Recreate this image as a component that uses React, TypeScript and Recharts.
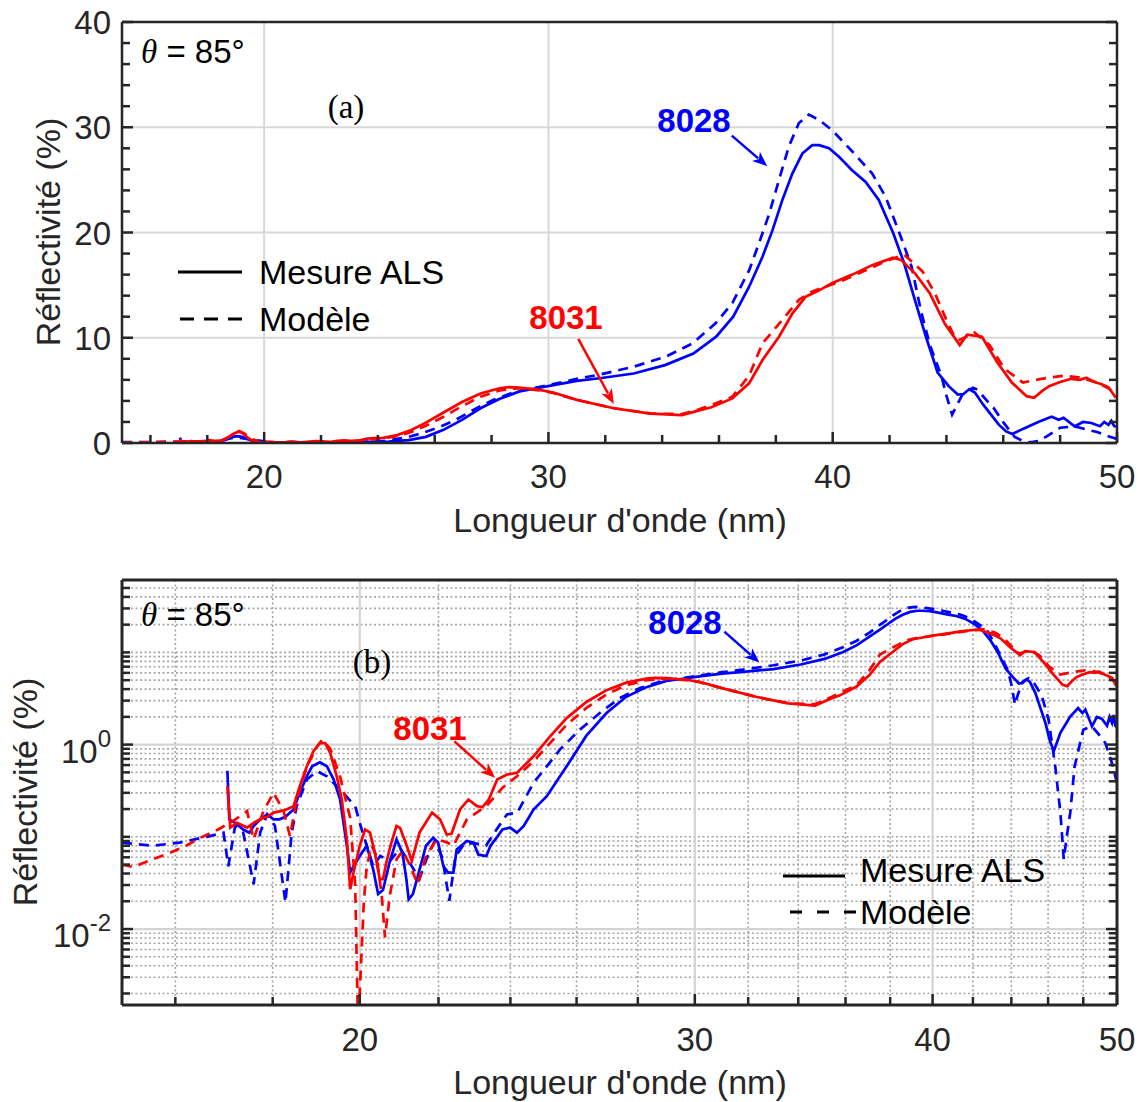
import React from "react";
import { LineChart, Line, XAxis, YAxis, CartesianGrid, ReferenceLine } from "recharts";

// [wavelength (nm), reflectivity (%)]
const mes8028: [number, number][] = [
  [17.04, 0.52], [17.08, 0.155], [17.2, 0.142], [17.37, 0.12], [17.5, 0.111], [17.59, 0.131],
  [17.73, 0.155], [17.88, 0.175], [18.02, 0.155], [18.15, 0.155], [18.28, 0.165], [18.46, 0.198],
  [18.6, 0.3], [18.76, 0.454], [18.88, 0.582], [19.06, 0.644], [19.22, 0.582], [19.38, 0.418],
  [19.53, 0.254], [19.69, 0.08], [19.77, 0.041], [19.85, 0.048], [20.0, 0.062], [20.17, 0.08],
  [20.33, 0.044], [20.45, 0.024], [20.57, 0.0265], [20.74, 0.054], [20.91, 0.094], [21.06, 0.067],
  [21.16, 0.035], [21.22, 0.021], [21.33, 0.024], [21.55, 0.0525], [21.67, 0.08], [21.86, 0.098],
  [21.99, 0.0865], [22.13, 0.048], [22.26, 0.041], [22.4, 0.041], [22.49, 0.073], [22.77, 0.09],
  [22.95, 0.0865], [23.09, 0.064], [23.31, 0.062], [23.43, 0.08], [23.62, 0.1], [23.77, 0.12],
  [23.99, 0.126], [24.19, 0.111], [24.39, 0.131], [24.68, 0.198], [25.08, 0.276], [25.69, 0.582],
  [26.31, 1.25], [26.96, 2.2], [27.61, 3.3], [28.29, 4.2], [28.98, 4.9], [29.69, 5.25],
  [30.17, 5.5], [31.0, 5.9], [31.8, 6.15], [33.0, 6.6], [34.1, 7.4], [35.1, 8.5], [35.9, 10.1],
  [36.5, 12.0], [37.06, 14.85], [37.53, 17.7], [37.88, 20.2], [38.23, 23.1], [38.58, 25.6],
  [38.93, 27.5], [39.28, 28.3], [39.52, 28.3], [39.87, 28.0], [40.22, 27.2], [40.69, 25.9],
  [41.16, 24.8], [41.62, 23.1], [42.12, 20.0], [42.51, 17.1], [42.9, 13.5], [43.29, 10.0],
  [43.69, 6.7], [44.08, 5.4], [44.4, 4.6], [44.6, 4.65], [44.8, 5.1], [45.0, 4.8], [45.3, 3.62],
  [45.85, 1.72], [46.1, 1.1], [46.32, 0.85], [46.69, 1.34], [47.25, 2.02], [47.7, 2.49],
  [47.95, 2.2], [48.12, 2.4], [48.51, 1.58], [48.8, 2.0], [49.1, 1.9], [49.4, 1.6], [49.55, 2.0],
  [49.7, 1.72], [49.8, 2.1], [49.9, 1.6], [50.0, 1.55],
];

const mod8028: [number, number][] = [
  [15.0, 0.0865], [15.57, 0.08], [16.08, 0.0865], [16.62, 0.1], [16.96, 0.111], [17.06, 0.048],
  [17.2, 0.131], [17.37, 0.111], [17.59, 0.0306], [17.73, 0.111], [17.88, 0.175], [18.05, 0.131],
  [18.28, 0.0194], [18.42, 0.111], [18.53, 0.215], [18.76, 0.418], [18.99, 0.515], [19.22, 0.454],
  [19.53, 0.326], [19.89, 0.215], [20.0, 0.142], [20.17, 0.08], [20.33, 0.048], [20.5, 0.062],
  [20.75, 0.055], [21.0, 0.075], [21.3, 0.048], [21.5, 0.035], [21.7, 0.06], [21.9, 0.09],
  [22.1, 0.06], [22.29, 0.0202], [22.45, 0.06], [22.7, 0.085], [23.0, 0.085], [23.3, 0.08],
  [23.6, 0.12], [23.9, 0.175], [24.2, 0.183], [24.68, 0.385], [25.08, 0.582], [25.48, 0.883],
  [26.1, 1.45], [26.74, 2.2], [27.39, 3.2], [28.07, 4.1], [28.75, 4.8], [29.45, 5.2], [30.17, 5.6],
  [31.0, 6.1], [31.8, 6.5], [33.0, 7.25], [34.13, 8.2], [35.07, 9.47], [35.89, 11.4], [36.47, 13.3],
  [37.06, 16.4], [37.41, 19.0], [37.77, 21.8], [38.11, 25.0], [38.46, 28.2], [38.81, 30.4],
  [39.16, 31.2], [39.52, 30.7], [39.99, 29.7], [40.69, 27.7], [41.39, 25.6], [41.86, 23.4],
  [42.38, 19.7], [42.77, 16.8], [43.1, 12.6], [43.42, 9.3], [43.82, 6.4], [44.0, 4.5], [44.2, 2.7],
  [44.35, 3.5], [44.6, 4.8], [44.94, 5.26], [45.1, 5.05], [45.4, 4.1], [45.66, 3.33], [46.03, 1.86],
  [46.4, 0.58], [46.69, 0.183], [46.88, 0.057], [47.05, 0.1], [47.25, 0.183], [47.5, 0.58],
  [48.0, 1.45], [48.5, 1.58], [48.9, 1.3], [49.3, 1.04], [49.69, 0.634], [50.0, 0.385],
];

const mes8031: [number, number][] = [
  [17.04, 0.354], [17.1, 0.126], [17.24, 0.142], [17.45, 0.126], [17.59, 0.142], [17.73, 0.155],
  [17.88, 0.165], [18.02, 0.183], [18.17, 0.19], [18.3, 0.198], [18.46, 0.215], [18.6, 0.354],
  [18.76, 0.582], [18.91, 0.85], [19.06, 1.04], [19.18, 1.04], [19.3, 0.81], [19.45, 0.454],
  [19.57, 0.254], [19.69, 0.094], [19.77, 0.027], [19.85, 0.041], [20.0, 0.08], [20.13, 0.12],
  [20.25, 0.111], [20.37, 0.067], [20.49, 0.0347], [20.57, 0.0347], [20.66, 0.054], [20.78, 0.0865],
  [20.91, 0.131], [21.0, 0.125], [21.17, 0.08], [21.3, 0.055], [21.5, 0.111], [21.83, 0.183],
  [22.04, 0.155], [22.22, 0.106], [22.35, 0.108], [22.58, 0.198], [22.81, 0.254], [23.05, 0.215],
  [23.2, 0.21], [23.38, 0.254], [23.62, 0.418], [23.9, 0.474], [24.19, 0.494], [24.68, 0.748],
  [25.18, 1.23], [25.69, 1.94], [26.31, 2.9], [26.96, 3.9], [27.61, 4.7], [28.29, 5.2], [28.6, 5.3],
  [28.98, 5.26], [29.69, 5.05], [30.17, 4.8], [31.0, 4.1], [32.3, 3.3], [33.6, 2.8], [34.7, 2.65],
  [35.3, 3.1], [35.73, 3.4], [36.47, 4.24], [37.06, 5.67], [37.53, 7.89], [38.11, 10.1],
  [38.58, 12.3], [39.05, 13.9], [39.52, 14.5], [39.99, 15.2], [40.69, 16.0], [41.39, 16.9],
  [42.12, 17.6], [42.4, 17.4], [42.9, 16.1], [43.42, 14.2], [43.95, 11.3], [44.47, 9.3],
  [44.73, 10.3], [45.25, 10.1], [45.78, 7.7], [46.3, 5.75], [46.82, 4.45], [47.08, 4.3],
  [47.35, 4.9], [47.61, 5.4], [48.0, 5.8], [48.39, 6.1], [48.7, 6.0], [48.92, 6.2], [49.2, 5.8],
  [49.44, 5.6], [49.7, 5.3], [49.96, 4.3],
];

const mod8031: [number, number][] = [
  [15.0, 0.05], [15.2, 0.047], [15.57, 0.057], [15.91, 0.0675], [16.21, 0.08], [16.5, 0.098],
  [16.85, 0.12], [17.17, 0.15], [17.45, 0.19], [17.59, 0.094], [17.8, 0.19], [18.02, 0.3],
  [18.24, 0.19], [18.38, 0.102], [18.53, 0.25], [18.76, 0.58], [18.99, 0.95], [19.11, 1.13],
  [19.3, 0.9], [19.53, 0.45], [19.77, 0.16], [19.89, 0.03], [19.96, 0.0008], [20.1, 0.02],
  [20.17, 0.048], [20.29, 0.08], [20.41, 0.062], [20.54, 0.0229], [20.62, 0.0081], [20.74, 0.023],
  [20.91, 0.057], [21.06, 0.07], [21.25, 0.05], [21.45, 0.0306], [21.67, 0.062], [21.95, 0.094],
  [22.2, 0.088], [22.4, 0.08], [22.77, 0.155], [23.31, 0.215], [23.77, 0.34], [24.19, 0.454],
  [24.68, 0.66], [25.18, 1.04], [25.69, 1.64], [26.31, 2.5], [26.96, 3.5], [27.61, 4.4],
  [28.29, 5.0], [28.98, 5.2], [29.69, 5.0], [30.17, 4.75], [31.0, 4.1], [32.3, 3.3], [33.6, 2.8],
  [34.7, 2.75], [35.3, 3.2], [35.73, 3.6], [36.47, 4.4], [37.06, 6.4], [37.53, 9.47], [38.23, 11.7],
  [38.81, 13.6], [39.28, 14.4], [40.22, 15.3], [41.16, 16.4], [41.8, 17.2], [42.51, 17.9],
  [43.16, 16.3], [43.6, 14.2], [43.95, 12.0], [44.3, 10.0], [44.47, 9.8], [44.99, 10.5],
  [45.52, 9.3], [46.04, 7.05], [46.69, 5.75], [47.35, 6.1], [48.13, 6.4], [48.65, 6.24],
  [49.31, 5.75], [49.96, 4.8],
];

// ticks
const xMajor = [20, 30, 40, 50];
const xMinor = [16, 18, 22, 24, 26, 28, 32, 34, 36, 38, 42, 44, 46, 48];
const yMajorLin = [0, 10, 20, 30, 40];
const yMinorLin = [2, 4, 6, 8, 12, 14, 16, 18, 22, 24, 26, 28, 32, 34, 36, 38];
const yMajorLog = [0.01, 1];
const yMinorLog = [
  0.002, 0.003, 0.004, 0.005, 0.006, 0.007, 0.008, 0.009,
  0.02, 0.03, 0.04, 0.05, 0.06, 0.07, 0.08, 0.09,
  0.1, 0.2, 0.3, 0.4, 0.5, 0.6, 0.7, 0.8, 0.9,
  2, 3, 4, 5, 6, 7, 8, 9, 10, 20, 30, 40, 50,
];

const BLUE = "#0000ff";
const RED = "#ff0000";
const AXIS = "#262626";
const SANS = '"Liberation Sans", Arial, sans-serif';
const SERIF = '"Liberation Serif", "Times New Roman", serif';

const W = 1143;
const LEFT = 122;
const RIGHT = 1117;

const toXY = (pts: [number, number][]) => pts.map(([x, y]) => ({ x, y }));

const series = [
  { key: "mes8028", data: toXY(mes8028), color: BLUE, dash: undefined },
  { key: "mod8028", data: toXY(mod8028), color: BLUE, dash: "10 7" },
  { key: "mes8031", data: toXY(mes8031), color: RED, dash: undefined },
  { key: "mod8031", data: toXY(mod8031), color: RED, dash: "10 7" },
];

function XTick({ x, payload, edge, dir, label, labelY }: any) {
  const v = payload.value;
  const major = xMajor.includes(v);
  return (
    <g>
      <line x1={x} x2={x} y1={edge} y2={edge + dir * (major ? 11 : 8)} stroke={AXIS} strokeWidth={2.5} />
      {label && major && (
        <text x={x} y={labelY} textAnchor="middle" fontSize={33} fontFamily={SANS} fill={AXIS}>
          {v}
        </text>
      )}
    </g>
  );
}

function YTick({ y, payload, edge, dir, label, majors, log }: any) {
  const v = payload.value;
  const major = majors.includes(v);
  let text: React.ReactNode = null;
  if (label && major) {
    if (log) {
      const e = Math.round(Math.log10(v));
      text = (
        <text x={LEFT - 11} y={y + 18} textAnchor="end" fontSize={33} fontFamily={SANS} fill={AXIS}>
          10
          <tspan dy={-16} fontSize={24}>{String(e)}</tspan>
        </text>
      );
    } else {
      text = (
        <text x={LEFT - 11} y={y + 12} textAnchor="end" fontSize={33} fontFamily={SANS} fill={AXIS}>
          {v}
        </text>
      );
    }
  }
  return (
    <g>
      <line x1={edge} x2={edge + dir * (major ? 11 : 8)} y1={y} y2={y} stroke={AXIS} strokeWidth={2.5} />
      {text}
    </g>
  );
}

const arrowShape = (color: string) => (p: any) => {
  const { x1, y1, x2, y2 } = p;
  const a = Math.atan2(y2 - y1, x2 - x1);
  const L = 15;
  const H = 6;
  const bx = x2 - L * Math.cos(a);
  const by = y2 - L * Math.sin(a);
  const pts = `${x2},${y2} ${bx - H * Math.sin(a)},${by + H * Math.cos(a)} ${bx + 4 * Math.cos(a)},${by + 4 * Math.sin(a)} ${bx + H * Math.sin(a)},${by - H * Math.cos(a)}`;
  return (
    <g>
      <line x1={x1} y1={y1} x2={bx + 3 * Math.cos(a)} y2={by + 3 * Math.sin(a)} stroke={color} strokeWidth={2.5} />
      <polygon points={pts} fill={color} />
    </g>
  );
};

function Lines() {
  return series.map((s) => (
    <Line
      key={s.key}
      data={s.data}
      dataKey="y"
      type="linear"
      stroke={s.color}
      strokeWidth={2.7}
      strokeDasharray={s.dash}
      dot={false}
      activeDot={false}
      isAnimationActive={false}
    />
  ));
}

// axes get a 1px box (Recharts skips axes with zero size), margins compensate
function PanelA() {
  const top = 22;
  const bottom = 443;
  const H = 550;
  return (
    <LineChart width={W} height={H} margin={{ top: top - 1, right: W - RIGHT - 1, bottom: H - bottom - 1, left: LEFT - 1 }}>
      <CartesianGrid horizontalValues={[10, 20, 30]} verticalValues={[20, 30, 40]} stroke="#d8d8d8" strokeWidth={2} fill="none" />
      <XAxis dataKey="x" type="number" domain={[15, 50]} allowDataOverflow ticks={[...xMinor, ...xMajor]} interval={0}
        height={1} tickLine={false} axisLine={{ stroke: AXIS, strokeWidth: 2.5 }}
        tick={(p: any) => <XTick {...p} edge={bottom} dir={-1} label labelY={bottom + 45} />} />
      <XAxis xAxisId="top" orientation="top" type="number" domain={[15, 50]} allowDataOverflow ticks={[...xMinor, ...xMajor]} interval={0}
        height={1} tickLine={false} axisLine={{ stroke: AXIS, strokeWidth: 2.5 }}
        tick={(p: any) => <XTick {...p} edge={top} dir={1} />} />
      <YAxis type="number" domain={[0, 40]} allowDataOverflow ticks={[...yMinorLin, ...yMajorLin]} interval={0}
        width={1} tickLine={false} axisLine={{ stroke: AXIS, strokeWidth: 2.5 }}
        tick={(p: any) => <YTick {...p} edge={LEFT} dir={1} label majors={yMajorLin} />} />
      <YAxis yAxisId="right" orientation="right" type="number" domain={[0, 40]} allowDataOverflow ticks={[...yMinorLin, ...yMajorLin]} interval={0}
        width={1} tickLine={false} axisLine={{ stroke: AXIS, strokeWidth: 2.5 }}
        tick={(p: any) => <YTick {...p} edge={RIGHT} dir={-1} majors={yMajorLin} />} />
      {Lines()}
      <ReferenceLine segment={[{ x: 36.45, y: 29.2 }, { x: 37.7, y: 26.3 }]} shape={arrowShape(BLUE)} />
      <ReferenceLine segment={[{ x: 31.05, y: 9.9 }, { x: 32.3, y: 3.7 }]} shape={arrowShape(RED)} />
    </LineChart>
  );
}

function PanelB() {
  const top = 30;
  const bottom = 455;
  const H = 552;
  return (
    <LineChart width={W} height={H} margin={{ top: top - 1, right: W - RIGHT - 1, bottom: H - bottom - 1, left: LEFT - 1 }}>
      <CartesianGrid horizontalValues={yMinorLog} verticalValues={xMinor} stroke="#a6a6a6" strokeWidth={1.6} strokeDasharray="2 2.5" fill="none" />
      <CartesianGrid horizontalValues={yMajorLog} verticalValues={[20, 30, 40]} stroke="#d4d4d4" strokeWidth={2.2} fill="none" />
      <XAxis dataKey="x" type="number" scale="log" domain={[15, 50]} allowDataOverflow ticks={[...xMinor, ...xMajor]} interval={0}
        height={1} tickLine={false} axisLine={{ stroke: AXIS, strokeWidth: 3 }}
        tick={(p: any) => <XTick {...p} edge={bottom} dir={-1} label labelY={bottom + 46} />} />
      <XAxis xAxisId="top" orientation="top" type="number" scale="log" domain={[15, 50]} allowDataOverflow ticks={[...xMinor, ...xMajor]} interval={0}
        height={1} tickLine={false} axisLine={{ stroke: AXIS, strokeWidth: 3 }}
        tick={(p: any) => <XTick {...p} edge={top} dir={1} />} />
      <YAxis type="number" scale="log" domain={[0.0015, 61]} allowDataOverflow ticks={[...yMinorLog, ...yMajorLog]} interval={0}
        width={1} tickLine={false} axisLine={{ stroke: AXIS, strokeWidth: 3 }}
        tick={(p: any) => <YTick {...p} edge={LEFT} dir={1} label log majors={yMajorLog} />} />
      <YAxis yAxisId="right" orientation="right" type="number" scale="log" domain={[0.0015, 61]} allowDataOverflow ticks={[...yMinorLog, ...yMajorLog]} interval={0}
        width={1} tickLine={false} axisLine={{ stroke: AXIS, strokeWidth: 3 }}
        tick={(p: any) => <YTick {...p} edge={RIGHT} dir={-1} log majors={yMajorLog} />} />
      {Lines()}
      <ReferenceLine segment={[{ x: 31.09, y: 16.8 }, { x: 32.44, y: 7.76 }]} shape={arrowShape(BLUE)} />
      <ReferenceLine segment={[{ x: 22.43, y: 1.086 }, { x: 23.56, y: 0.436 }]} shape={arrowShape(RED)} />
    </LineChart>
  );
}

function LegendBox({ x, y1, y2, dash, dashStart, dashEnd }: { x: number[]; y1: number; y2: number; dash: [number, number]; dashStart: number; dashEnd: number }) {
  return (
    <g>
      <line x1={x[0]} x2={x[1]} y1={y1} y2={y1} stroke="#000" strokeWidth={3} />
      <line x1={dashStart} x2={dashEnd} y1={y2} y2={y2} stroke="#000" strokeWidth={3} strokeDasharray={`${dash[0]} ${dash[1]}`} />
    </g>
  );
}

function Overlay() {
  const txt = { fontFamily: SANS, fontSize: 34, fill: "#000" } as const;
  const lab = { fontFamily: SANS, fontSize: 34, fill: AXIS } as const;
  return (
    <svg width={W} height={1102} style={{ position: "absolute", left: 0, top: 0, pointerEvents: "none" }}>
      {/* panel (a) */}
      <text x={141} y={63} fontFamily={SANS} fontSize={33} fill="#000">
        <tspan fontFamily={SERIF} fontStyle="italic">θ</tspan>
        {" = 85°"}
      </text>
      <text x={346} y={118} textAnchor="middle" fontFamily={SERIF} fontSize={33} fill="#000">(a)</text>
      <text x={694} y={132} textAnchor="middle" fontFamily={SANS} fontWeight="bold" fontSize={33} fill={BLUE}>8028</text>
      <text x={566} y={329} textAnchor="middle" fontFamily={SANS} fontWeight="bold" fontSize={33} fill={RED}>8031</text>
      <LegendBox x={[178, 242]} y1={272} y2={319} dash={[14, 10]} dashStart={180} dashEnd={243} />
      <text x={259} y={284} {...txt}>Mesure ALS</text>
      <text x={259} y={331} {...txt}>Modèle</text>
      <text x={620} y={532} textAnchor="middle" {...lab}>Longueur d'onde (nm)</text>
      <text x={48} y={232} textAnchor="middle" dominantBaseline="central" transform="rotate(-90 48 232)" {...lab}>Réflectivité (%)</text>

      {/* panel (b) */}
      <text x={141} y={626} fontFamily={SANS} fontSize={33} fill="#000">
        <tspan fontFamily={SERIF} fontStyle="italic">θ</tspan>
        {" = 85°"}
      </text>
      <text x={372} y={673} textAnchor="middle" fontFamily={SERIF} fontSize={33} fill="#000">(b)</text>
      <text x={685} y={634} textAnchor="middle" fontFamily={SANS} fontWeight="bold" fontSize={33} fill={BLUE}>8028</text>
      <text x={430} y={740} textAnchor="middle" fontFamily={SANS} fontWeight="bold" fontSize={33} fill={RED}>8031</text>
      <LegendBox x={[783, 845]} y1={876} y2={912} dash={[12, 15]} dashStart={790} dashEnd={856} />
      <text x={860} y={882} {...txt}>Mesure ALS</text>
      <text x={860} y={924} {...txt}>Modèle</text>
      <text x={620} y={1094} textAnchor="middle" {...lab}>Longueur d'onde (nm)</text>
      <text x={25} y={792} textAnchor="middle" dominantBaseline="central" transform="rotate(-90 25 792)" {...lab}>Réflectivité (%)</text>
    </svg>
  );
}

export default function App() {
  return (
    <div style={{ position: "absolute", left: 0, top: 0, width: W, height: 1102, background: "#fff" }}>
      <div style={{ position: "absolute", left: 0, top: 0 }}>
        <PanelA />
      </div>
      <div style={{ position: "absolute", left: 0, top: 550 }}>
        <PanelB />
      </div>
      <Overlay />
    </div>
  );
}
